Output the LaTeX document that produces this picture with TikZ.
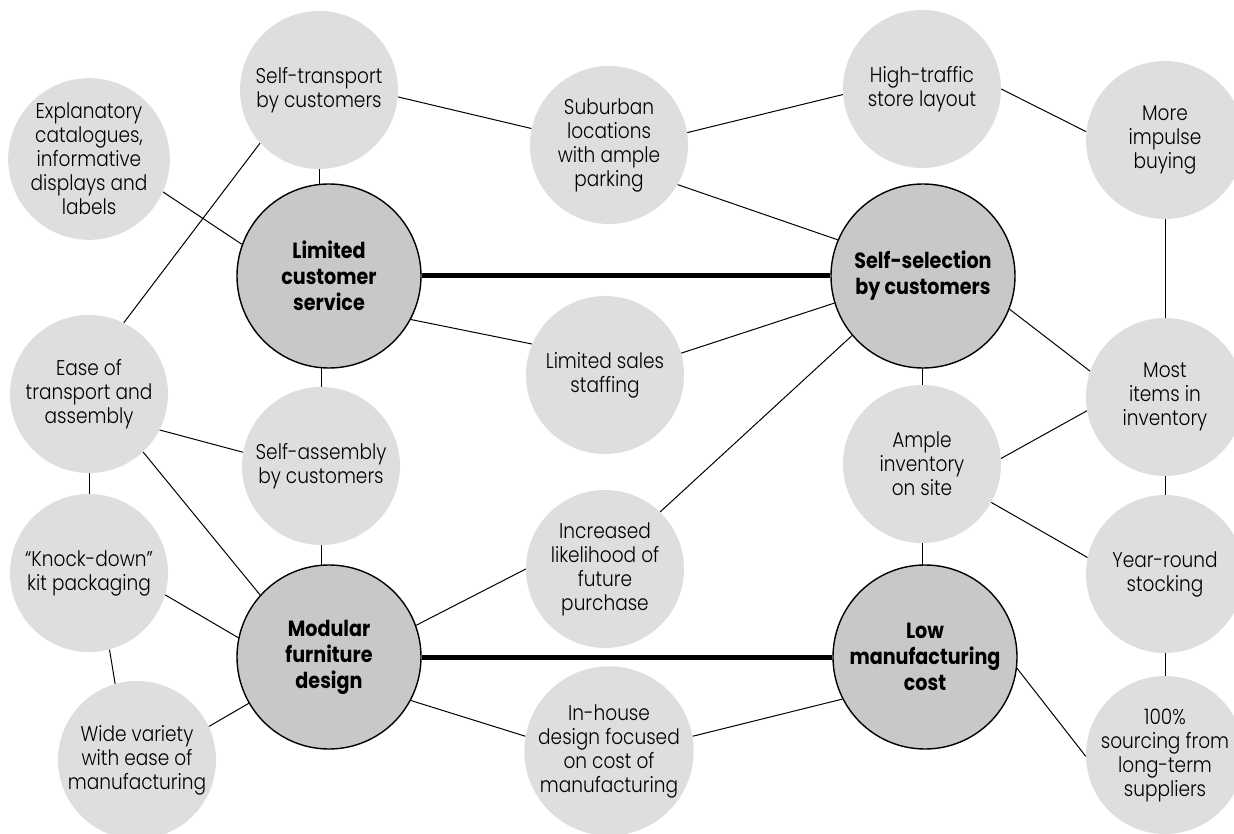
\documentclass[tikz,border=0pt]{standalone}
\usepackage{fontspec}
\setmainfont{Poppins}[FakeStretch=0.87, UprightFont=* Light, BoldFont=* Bold]
\usetikzlibrary{backgrounds}
\definecolor{lightc}{RGB}{221,222,224}
\definecolor{darkc}{RGB}{199,200,202}
\begin{document}
\begin{tikzpicture}[x=1pt,y=-1pt,
  leaf/.style={circle, fill=lightc, minimum size=158pt, inner sep=0pt, align=center, font=\fontsize{21.3}{24}\selectfont},
  hub/.style={circle, fill=darkc, draw=black, line width=1.4pt, minimum size=184pt, inner sep=0pt, align=center, font=\bfseries\fontsize{22}{26}\selectfont},
  link/.style={line width=1pt},
  bond/.style={line width=5pt}]
\useasboundingbox (0,0) rectangle (1234,834);
\node[leaf] (st) at (319,90) {Self-transport\\by customers};
\node[leaf] (ex) at (89,159) {Explanatory\\catalogues,\\informative\\displays and\\labels};
\node[leaf] (su) at (609,145) {Suburban\\locations\\with ample\\parking};
\node[leaf] (ht) at (922,89) {High-traffic\\store layout};
\node[leaf] (mi) at (1165,140) {More\\impulse\\buying};
\node[hub] (lcs) at (329,276) {Limited\\customer\\service};
\node[hub] (ss) at (923,276) {Self-selection\\by customers};
\node[leaf] (ls) at (605,375) {Limited sales\\staffing};
\node[leaf] (ea) at (89,394) {Ease of\\transport and\\assembly};
\node[leaf] (mo) at (1165,397) {Most\\items in\\inventory};
\node[leaf] (sa) at (321,466) {Self-assembly\\by customers};
\node[leaf] (am) at (922,464) {Ample\\inventory\\on site};
\node[leaf] (kd) at (89,573) {“Knock-down”\\kit packaging};
\node[leaf] (in) at (605,569) {Increased\\likelihood of\\future\\purchase};
\node[leaf] (yr) at (1165,574) {Year-round\\stocking};
\node[hub] (mf) at (329,657) {Modular\\furniture\\design};
\node[hub] (lm) at (925,657) {Low\\manufacturing\\cost};
\node[leaf] (wv) at (137,760) {Wide variety\\with ease of\\manufacturing};
\node[leaf] (ih) at (609,751) {In-house\\design focused\\on cost of\\manufacturing};
\node[leaf] (so) at (1165,755) {100\%\\sourcing from\\long-term\\suppliers};
\begin{pgfonlayer}{background}
\draw[link] (ex.-24) -- (lcs.160);
\draw[link] (ea.64) -- (st.222);
\draw[link] (st.-5) -- (su.168);
\draw[link] (lcs.-28) -- (ls.157);
\draw[link] (su.9) -- (ht.184);
\draw[link] (ht.0) -- (mi.174);
\draw[link] (su.-30) -- (ss.157);
\draw[link] (ss.-21) -- (mo.161);
\draw[link] (ss.197) -- (ls.16);
\draw[link] (ss.220) -- (in.46);
\draw[link] (ea.-27) -- (sa.170);
\draw[link] (ea.-47) -- (mf.138);
\draw[link] (kd.-16) -- (mf.168);
\draw[link] (kd.-75) -- (wv.106);
\draw[link] (mf.20) -- (in.180);
\draw[link] (mf.-28) -- (ih.170);
\draw[link] (wv.25) -- (mf.210);
\draw[link] (am.4) -- (mo.190);
\draw[link] (am.-29) -- (yr.168);
\draw[link] (lm.-7) -- (so.181);
\draw[link] (lm.207) -- (ih.10);
\draw[link] (st) -- (st |- lcs);
\draw[link] (sa) -- (sa |- lcs);
\draw[link] (sa) -- (sa |- mf);
\draw[link] (am) -- (am |- ss);
\draw[link] (am) -- (am |- lm);
\draw[link] (mi) -- (mo);
\draw[link] (mo) -- (yr);
\draw[link] (yr) -- (so);
\draw[link] (ea) -- (kd);
\draw[bond] (lcs) -- (ss);
\draw[bond] (mf) -- (lm);
\end{pgfonlayer}
\end{tikzpicture}
\end{document}
